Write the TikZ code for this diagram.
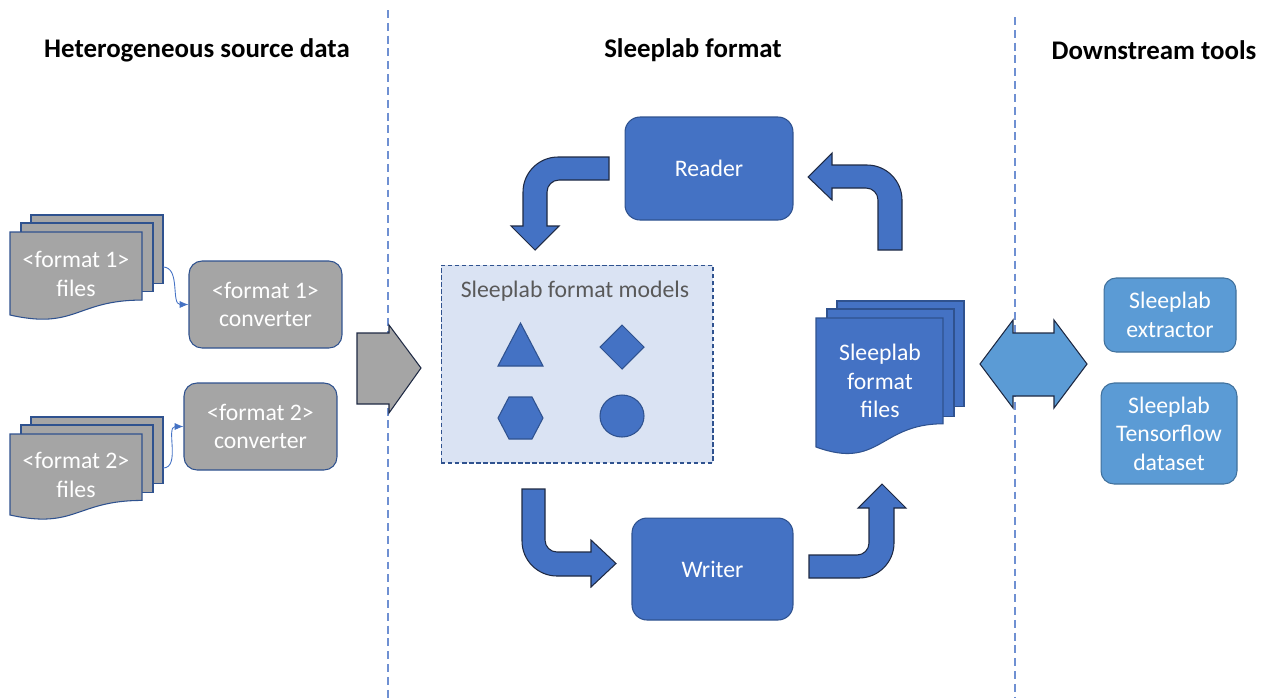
\documentclass[tikz,border=0pt]{standalone}
\usepackage{fontspec}
\setmainfont{Carlito}
\usetikzlibrary{arrows.meta}
\definecolor{blueFill}{HTML}{4472C4}
\definecolor{blueLine}{HTML}{2F528F}
\definecolor{grayFill}{HTML}{A5A5A5}
\definecolor{skyFill}{HTML}{5B9BD5}
\definecolor{skyLine}{HTML}{41719C}
\definecolor{paleFill}{HTML}{DAE3F3}
\definecolor{sepLine}{HTML}{6F90D2}
\definecolor{darkLine}{HTML}{1F2A44}
\definecolor{modelText}{HTML}{595959}
\begin{document}
\begin{tikzpicture}[x=0.02cm,y=-0.02cm]
\tikzset{heading/.style={font=\fontsize{15.3}{18}\selectfont\bfseries},
  body/.style={font=\fontsize{13.5}{16.2}\selectfont,align=center,inner sep=0pt},
  box/.style={body,draw=blueLine,line width=0.6pt,rounded corners=0.26cm,text=white},
  fat/.style={draw=darkLine,line width=0.6pt,line join=miter},
  sep/.style={sepLine,line width=0.9pt,dash pattern=on 4.5pt off 2.8pt},
  link/.style={blueFill,line width=0.5pt,-{Latex[length=5pt,width=4pt]}}}
\useasboundingbox (0,0) rectangle (1270,698);
%column separators
\draw[sep] (388,10) -- (388,698);
\draw[sep] (1015,17) -- (1015,698);
%headings
\node[heading] (hsrc) at (197,50) {Heterogeneous source data};
\node[heading] (hfmt) at (693,50) {Sleeplab format};
\node[heading] (hdown) at (1154,50) {Downstream tools};
%stacked documents
\foreach \dx/\dy/\dw/\dh/\dc in {10/232/132/83/grayFill, 10/434/132/81/grayFill, 816/318/127/129/blueFill}{
\filldraw[fill=\dc,draw=blueLine,line width=0.6pt] (\dx+21,\dy-17) rectangle ++(\dw,0.82*\dh);
\filldraw[fill=\dc,draw=blueLine,line width=0.6pt] (\dx+11,\dy-9) rectangle ++(\dw,0.83*\dh);
\filldraw[fill=\dc,draw=blueLine,line width=0.6pt] (\dx,\dy) -- ++(\dw,0) -- ++(0,0.82*\dh)
  .. controls (\dx+0.5*\dw,\dy+0.82*\dh) and (\dx+0.5*\dw,\dy+1.18*\dh) .. (\dx,\dy+\dh) -- cycle;}
\node[body,text=white] (files1) at (76,274) {<format 1>\\files};
\node[body,text=white] (files2) at (76,475) {<format 2>\\files};
\node[body,text=white] (slfiles) at (880,381) {Sleeplab\\format\\files};
%converters
\node[box,fill=grayFill,minimum width=3.06cm,minimum height=1.74cm] (conv1) at (265.5,304.5) {<format 1>\\converter};
\node[box,fill=grayFill,minimum width=3.06cm,minimum height=1.74cm] (conv2) at (260.5,426.5) {<format 2>\\converter};
\coordinate (f1out) at (163,267);
\coordinate (f2out) at (163,468);
\draw[link] (f1out) to[out=0,in=180] (conv1.west);
\draw[link] (f2out) to[out=0,in=180] (conv2.west);
%into the format
\filldraw[fat,fill=grayFill] (357,333) -- (389,333) -- (389,325) -- (421,368) -- (389,413) -- (389,404) -- (357,404) -- cycle;
%models
\node[draw=blueLine,fill=paleFill,line width=0.6pt,dash pattern=on 2.5pt off 1.5pt,minimum width=5.44cm,minimum height=3.96cm] (models) at (577,364) {};
\node[body,text=modelText] (mtitle) at (575,291) {Sleeplab format models};
\filldraw[fill=blueFill,draw=blueLine,line width=0.6pt] (498,366) -- (520.5,323) -- (543,366) -- cycle;
\filldraw[fill=blueFill,draw=blueLine,line width=0.6pt] (622,325) -- (644,347) -- (622,369) -- (600,347) -- cycle;
\filldraw[fill=blueFill,draw=blueLine,line width=0.6pt] (498,418) -- (509,397) -- (532,397) -- (543,418) -- (532,439) -- (509,439) -- cycle;
\filldraw[fill=blueFill,draw=blueLine,line width=0.6pt] (622,416) ellipse [x radius=22,y radius=21];
%reader and writer
\node[box,fill=blueFill,minimum width=3.36cm,minimum height=2.06cm,rounded corners=0.3cm] (reader) at (709,168.5) {Reader};
\node[box,fill=blueFill,minimum width=3.22cm,minimum height=2.04cm,rounded corners=0.3cm] (writer) at (712.5,569) {Writer};
%bent arrows
\filldraw[fat,fill=blueFill] (609,157) -- (558,157) .. controls (538.7,157) and (523,172.7) .. (523,192) -- (523,226) -- (511,226)
  -- (535,250) -- (559,226) -- (547,226) -- (547,192) .. controls (547,185.4) and (552.4,180) .. (559,180) -- (609,180) -- cycle;
\filldraw[fat,fill=blueFill] (878,250) -- (878,200) .. controls (878,193.4) and (872.6,188) .. (866,188) -- (832,188) -- (832,200)
  -- (808,177) -- (832,153) -- (832,165) -- (867,165) .. controls (886.3,165) and (902,180.7) .. (902,200) -- (902,250) -- cycle;
\filldraw[fat,fill=blueFill] (522,489) -- (522,541) .. controls (522,560.3) and (537.7,576) .. (557,576) -- (591,576) -- (591,587)
  -- (616,563.5) -- (591,540) -- (591,552) -- (557,552) .. controls (550.4,552) and (545,546.6) .. (545,540) -- (545,489) -- cycle;
\filldraw[fat,fill=blueFill] (809,555) -- (857,555) .. controls (863.6,555) and (869,549.6) .. (869,543) -- (869,508) -- (858,508)
  -- (882,484) -- (906,508) -- (894,508) -- (894,543) .. controls (894,562.3) and (878.3,578) .. (859,578) -- (809,578) -- cycle;
%to downstream
\filldraw[fat,fill=skyFill] (980,364) -- (1013,320) -- (1013,333) -- (1054,333) -- (1054,320) -- (1087,364)
  -- (1054,408) -- (1054,396) -- (1013,396) -- (1013,408) -- cycle;
\node[box,fill=skyFill,draw=skyLine,minimum width=2.64cm,minimum height=1.48cm,rounded corners=0.24cm] (extractor) at (1170,315) {Sleeplab\\extractor};
\node[box,fill=skyFill,draw=skyLine,minimum width=2.72cm,minimum height=2.02cm,rounded corners=0.26cm] (tfds) at (1169,433.5) {Sleeplab\\Tensorflow\\dataset};
\end{tikzpicture}
\end{document}
